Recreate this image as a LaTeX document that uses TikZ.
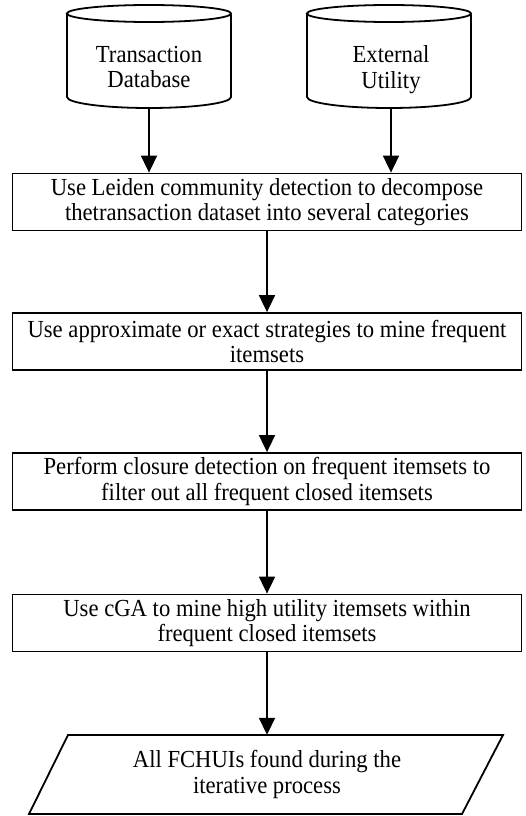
\documentclass[tikz,border=0pt]{standalone}
\usepackage{fontspec}
\setmainfont{Liberation Serif}[FakeStretch=0.925]
\usetikzlibrary{arrows.meta}
\tikzset{
  stepbox/.style={draw, line width=1.8pt, minimum width=509pt, minimum height=57pt,
    align=center, inner sep=0pt},
  storelabel/.style={align=center, text depth=6pt},
  flow/.style={line width=1.8pt, -{Triangle[length=17pt,width=16pt]}},
  outline/.style={line width=1.8pt},
}
\begin{document}
\begin{tikzpicture}[x=1pt,y=1pt,font=\fontsize{24.5}{25.5}\selectfont]
\useasboundingbox (0,0) rectangle (526,-816);
% data stores
\draw[outline] (67,-13.5) -- (67,-97) arc[start angle=180,end angle=360,x radius=82,y radius=11]
  -- (231,-13.5) arc[start angle=0,end angle=360,x radius=82,y radius=8.5];
\draw[outline] (307,-13.5) -- (307,-97) arc[start angle=180,end angle=360,x radius=82,y radius=11]
  -- (471,-13.5) arc[start angle=0,end angle=360,x radius=82,y radius=8.5];
\node [storelabel] (tdb) at (149,-70) {Transaction\\Database};
\node [storelabel] (eu) at (391,-70) {External\\Utility};
\coordinate (tdbout) at (149,-108);
\coordinate (euout) at (391,-108);
% steps
\node [stepbox] (leiden) at (267,-202) {Use Leiden community detection to decompose\\thetransaction dataset into several categories};
\node [stepbox] (mine) at (267,-341.5) {Use approximate or exact strategies to mine frequent\\itemsets};
\node [stepbox] (closure) at (267,-481.5) {Perform closure detection on frequent itemsets to\\filter out all frequent closed itemsets};
\node [stepbox] (cga) at (267,-623) {Use cGA to mine high utility itemsets within\\frequent closed itemsets};
% output
\draw[outline] (68,-735) -- (503,-735) -- (462,-814) -- (29,-814) -- cycle;
\node (result) at (267,-774.5) [align=center, minimum height=79pt, inner sep=0pt] {All FCHUIs found during the\\iterative process};
% arrows
\draw[flow] (tdbout) -- (leiden.north -| tdbout);
\draw[flow] (euout) -- (leiden.north -| euout);
\draw[flow] (leiden) -- (mine);
\draw[flow] (mine) -- (closure);
\draw[flow] (closure) -- (cga);
\draw[flow] (cga) -- (result);
\end{tikzpicture}
\end{document}
